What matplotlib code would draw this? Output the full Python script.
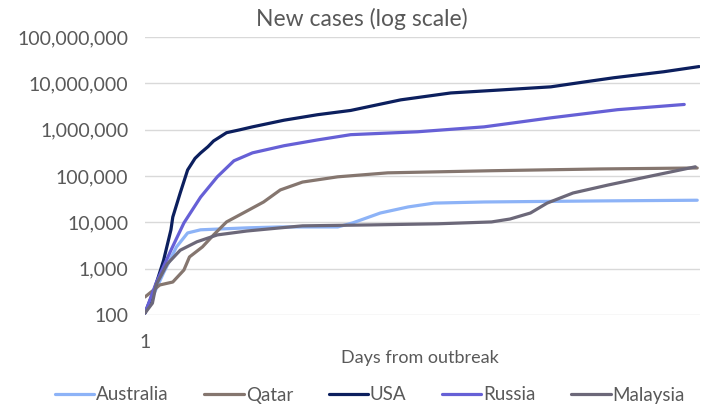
import numpy as np
import matplotlib
matplotlib.use("Agg")
import matplotlib.pyplot as plt
from matplotlib.ticker import FuncFormatter, FixedLocator

plt.rcParams["font.family"] = ["Lato", "DejaVu Sans"]

# ---------------------------------------------------------
# data (cumulative cases)
# ---------------------------------------------------------
usa_days = [1, 6, 11, 15, 16, 20, 24, 28, 31, 35, 38, 45, 52, 59, 76, 94, 112,
            139, 166, 193, 220, 238, 254, 281, 300]
usa_cases = [110, 350, 1500, 6900, 13000, 43000, 135000, 240000, 314000,
             430000, 570000, 860000, 990000, 1150000, 1600000, 2100000,
             2600000, 4400000, 6200000, 7200000, 8400000, 10700000, 13200000,
             17800000, 23000000]

russia_days = [1, 7, 15, 22, 31, 40, 49, 59, 76, 94, 112, 148, 184, 220, 256, 292]
russia_cases = [110, 490, 2500, 9700, 35000, 96000, 213000, 316000, 450000,
                600000, 780000, 900000, 1150000, 1800000, 2700000, 3500000]

qatar_days = [1, 9, 16, 22, 25, 32, 38, 45, 54, 65, 74, 86, 105, 132, 188, 247, 299]
qatar_cases = [245, 445, 515, 935, 1790, 2950, 5350, 10200, 15900, 27500,
               50000, 74000, 96000, 117000, 130000, 142000, 149000]

australia_days = [1, 11, 18, 24, 31, 42, 56, 74, 105, 113, 128, 143, 157, 184,
                  247, 299]
australia_cases = [110, 810, 2950, 5900, 6900, 7200, 7600, 7950, 7950, 9700,
                   15900, 21500, 26000, 27500, 29000, 30000]

malaysia_days = [1, 5, 7, 13, 20, 29, 40, 56, 74, 86, 123, 159, 188, 198, 209,
                 218, 232, 251, 272, 298]
malaysia_cases = [110, 180, 445, 1260, 2500, 3800, 5350, 6500, 7600, 8400,
                  8800, 9300, 10200, 11800, 15900, 26000, 43000, 64000, 96000,
                  158000]

series = [
    ("Australia", australia_days, australia_cases, "#8DB3F7"),
    ("Qatar", qatar_days, qatar_cases, "#85766F"),
    ("USA", usa_days, usa_cases, "#0C1F5E"),
    ("Russia", russia_days, russia_cases, "#6660D6"),
    ("Malaysia", malaysia_days, malaysia_cases, "#6C6879"),
]

TEXT = "#595959"

fig = plt.figure(figsize=(7.01, 4.07), dpi=100)
ax = fig.add_axes([145 / 701, 1 - 315 / 407, 555 / 701, (315 - 37) / 407])

for name, d, c, col in series:
    ax.plot(d, c, color=col, lw=2.3, label=name,
            solid_capstyle="round", solid_joinstyle="round")

ax.set_yscale("log")
ax.set_ylim(100, 1e8)
ax.set_xlim(1, 300.5)
ax.yaxis.set_major_locator(FixedLocator([10 ** k for k in range(2, 9)]))
ax.yaxis.set_minor_locator(FixedLocator([]))
ax.yaxis.set_major_formatter(FuncFormatter(lambda v, p: f"{int(round(v)):,}"))
ax.set_xticks([1])
ax.set_xticklabels(["1"])
ax.tick_params(axis="both", length=0, labelsize=14, labelcolor=TEXT)
ax.tick_params(axis="y", pad=12)
ax.tick_params(axis="x", pad=14)
ax.grid(axis="y", color="#D9D9D9", lw=1)
ax.set_axisbelow(True)
for s in ax.spines.values():
    s.set_visible(False)

fig.text(362 / 701, 1 - 19 / 407, "New cases (log scale)", ha="center",
         va="center", fontsize=16.5, color=TEXT)
fig.text(420 / 701, 1 - 358 / 407, "Days from outbreak", ha="center",
         va="center", fontsize=13, color=TEXT)

fig.legend(loc="center", bbox_to_anchor=(370 / 701, 1 - 395 / 407), ncol=5,
           frameon=False, fontsize=13.5, labelcolor=TEXT, handlelength=2.1,
           handletextpad=0.1, columnspacing=1.9)

fig.savefig("out.png", dpi=100)
